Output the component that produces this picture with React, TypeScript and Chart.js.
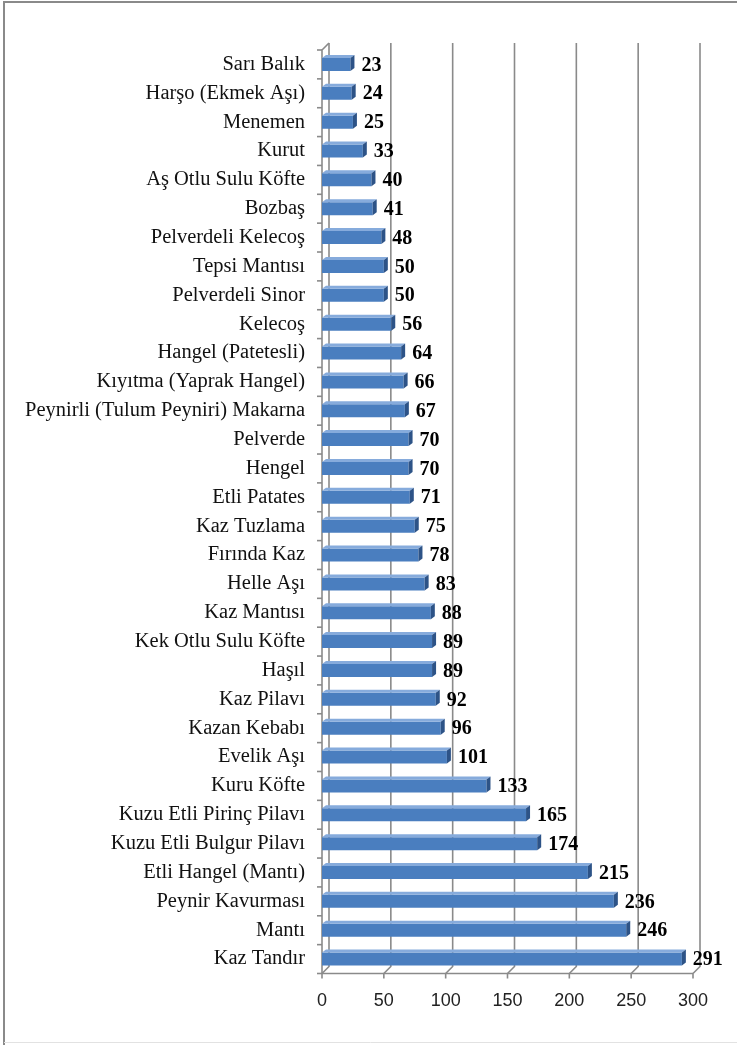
import React, { useEffect, useRef } from "react";
import { Chart, registerables } from "chart.js";

Chart.register(...registerables);

const categories = [
  "Sarı Balık",
  "Harşo (Ekmek Aşı)",
  "Menemen",
  "Kurut",
  "Aş Otlu Sulu Köfte",
  "Bozbaş",
  "Pelverdeli Kelecoş",
  "Tepsi Mantısı",
  "Pelverdeli Sinor",
  "Kelecoş",
  "Hangel (Patetesli)",
  "Kıyıtma (Yaprak Hangel)",
  "Peynirli (Tulum Peyniri) Makarna",
  "Pelverde",
  "Hengel",
  "Etli Patates",
  "Kaz Tuzlama",
  "Fırında Kaz",
  "Helle Aşı",
  "Kaz Mantısı",
  "Kek Otlu Sulu Köfte",
  "Haşıl",
  "Kaz Pilavı",
  "Kazan Kebabı",
  "Evelik Aşı",
  "Kuru Köfte",
  "Kuzu Etli Pirinç Pilavı",
  "Kuzu Etli Bulgur Pilavı",
  "Etli Hangel (Mantı)",
  "Peynir Kavurması",
  "Mantı",
  "Kaz Tandır",
];

const values = [
  23, 24, 25, 33, 40, 41, 48, 50, 50, 56, 64, 66, 67, 70, 70, 71, 75, 78, 83,
  88, 89, 89, 92, 96, 101, 133, 165, 174, 215, 236, 246, 291,
];

const xTicks = [0, 50, 100, 150, 200, 250, 300];

const W = 737;
const H = 1045;
const DEPTH_X = 7;
const DEPTH_Y = 7;
const GRID = "#8a8a8a";

const framePlugin = {
  id: "frame",
  beforeDraw(chart: any) {
    const ctx = chart.ctx;
    ctx.save();
    ctx.fillStyle = "#ffffff";
    ctx.fillRect(0, 0, W, H);
    ctx.strokeStyle = "#8a8a8a";
    ctx.lineWidth = 2;
    ctx.beginPath();
    ctx.moveTo(4, H);
    ctx.lineTo(4, 2);
    ctx.lineTo(W, 2);
    ctx.stroke();
    ctx.strokeStyle = "#e2e2e2";
    ctx.lineWidth = 1;
    ctx.beginPath();
    ctx.moveTo(4, H - 2.5);
    ctx.lineTo(W, H - 2.5);
    ctx.stroke();
    ctx.restore();
  },
};

const gridPlugin = {
  id: "grid3d",
  beforeDatasetsDraw(chart: any) {
    const ctx = chart.ctx;
    const x = chart.scales.x;
    const y = chart.scales.y;
    const top = chart.chartArea.top;
    const bottom = chart.chartArea.bottom;
    ctx.save();
    ctx.strokeStyle = GRID;
    ctx.lineWidth = 1.6;
    xTicks.forEach((v) => {
      const px = x.getPixelForValue(v);
      ctx.beginPath();
      ctx.moveTo(px + DEPTH_X, top - DEPTH_Y);
      ctx.lineTo(px + DEPTH_X, bottom - DEPTH_Y);
      ctx.lineTo(px, bottom);
      ctx.lineTo(px, bottom + 5);
      ctx.stroke();
    });
    const x0 = x.getPixelForValue(0);
    const x1 = x.getPixelForValue(300);
    ctx.beginPath();
    ctx.moveTo(x0, bottom);
    ctx.lineTo(x1, bottom);
    ctx.stroke();
    ctx.beginPath();
    ctx.moveTo(x0 + DEPTH_X, top - DEPTH_Y);
    ctx.lineTo(x0, top);
    ctx.lineTo(x0, bottom);
    ctx.stroke();
    const n = categories.length;
    const step = (bottom - top) / n;
    for (let i = 0; i <= n; i++) {
      const py = y.getPixelForValue(i) - step / 2;
      ctx.beginPath();
      ctx.moveTo(x0 - 5, py);
      ctx.lineTo(x0, py);
      ctx.stroke();
    }
    ctx.restore();
  },
};

const bar3dPlugin = {
  id: "bar3d",
  afterDatasetsDraw(chart: any) {
    const ctx = chart.ctx;
    const meta = chart.getDatasetMeta(0);
    const dx = 4;
    const dy = 3;
    ctx.save();
    meta.data.forEach((bar: any, i: number) => {
      const p = bar.getProps(["x", "y", "base", "height"], true);
      const t = p.y - p.height / 2;
      const b = p.y + p.height / 2;
      const l = p.base;
      const r = p.x;
      ctx.fillStyle = "#86abdc";
      ctx.beginPath();
      ctx.moveTo(l, t);
      ctx.lineTo(l + dx, t - dy);
      ctx.lineTo(r + dx, t - dy);
      ctx.lineTo(r, t);
      ctx.closePath();
      ctx.fill();
      ctx.fillStyle = "#2d5387";
      ctx.beginPath();
      ctx.moveTo(r, t);
      ctx.lineTo(r + dx, t - dy);
      ctx.lineTo(r + dx, b - dy);
      ctx.lineTo(r, b);
      ctx.closePath();
      ctx.fill();
      ctx.fillStyle = "#000000";
      ctx.font = "bold 20px 'Liberation Serif', 'Times New Roman', serif";
      ctx.textAlign = "left";
      ctx.textBaseline = "middle";
      ctx.fillText(String(values[i]), r + dx + 7, p.y + 1);
    });
    ctx.restore();
  },
};

export default function App() {
  const ref = useRef<HTMLCanvasElement | null>(null);
  useEffect(() => {
    if (!ref.current) return;
    const chart = new Chart(ref.current, {
      type: "bar",
      data: {
        labels: categories,
        datasets: [
          {
            data: values,
            backgroundColor: "#4a7ebf",
            borderWidth: 0,
            barPercentage: 0.45,
            categoryPercentage: 1,
          },
        ],
      },
      plugins: [framePlugin, gridPlugin, bar3dPlugin],
      options: {
        indexAxis: "y",
        responsive: false,
        animation: false,
        devicePixelRatio: 1,
        layout: { padding: { top: 50, right: 44, left: 0, bottom: 0 } },
        plugins: {
          legend: { display: false },
          tooltip: { enabled: false },
          title: { display: false },
        },
        scales: {
          x: {
            min: 0,
            max: 300,
            afterBuildTicks: (s: any) => {
              s.ticks = xTicks.map((v) => ({ value: v }));
            },
            afterFit: (s: any) => {
              s.height = 71.5;
            },
            grid: { display: false, drawTicks: false },
            border: { display: false },
            ticks: {
              padding: 17,
              color: "#222222",
              font: {
                family: "'Liberation Sans', Arial, sans-serif",
                size: 18,
              },
            },
          },
          y: {
            afterFit: (s: any) => {
              s.width = 322;
            },
            grid: { display: false, drawTicks: false },
            border: { display: false },
            ticks: {
              padding: 17,
              color: "#111111",
              autoSkip: false,
              font: {
                family: "'Liberation Serif', 'Times New Roman', serif",
                size: 20.5,
              },
            },
          },
        },
      },
    });
    return () => chart.destroy();
  }, []);
  return (
    <div style={{ position: "absolute", left: 0, top: 0, width: W, height: H }}>
      <canvas ref={ref} width={W} height={H} style={{ width: W, height: H, display: "block" }} />
    </div>
  );
}
